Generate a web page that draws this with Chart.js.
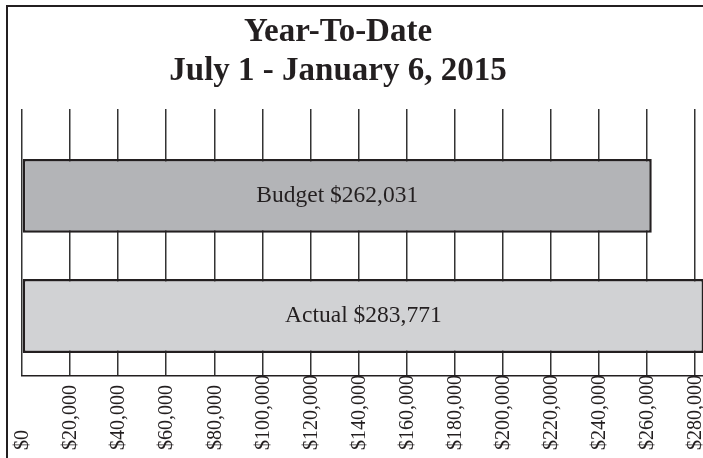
<!DOCTYPE html>
<html>
<head>
<meta charset="utf-8">
<title>Year-To-Date</title>
<script src="https://cdn.jsdelivr.net/npm/chart.js@4.4.0/dist/chart.umd.min.js"></script>
<style>
  html, body { margin: 0; padding: 0; background: #fff; overflow: hidden; }
  body { width: 703px; height: 458px; position: relative; }
  #chart { position: absolute; left: -67px; top: 0; }
  .frame { position: absolute; left: 6px; top: 5px; width: 800px; height: 600px; border: 2px solid #231f20; pointer-events: none; }
</style>
</head>
<body>
<canvas id="chart" width="810" height="458"></canvas>
<div class="frame"></div>
<script>
// values
var categories = ['Budget', 'Actual'];
var amounts = [262031, 283771];
var barColors = ['#b3b4b7', '#d1d2d4'];
var titleLines = ['Year-To-Date', 'July 1 - January 6, 2015'];
var axisMin = 0;
var axisMax = 300000;
var axisStep = 20000;

var ink = '#231f20';
var gridInk = '#333333';

function money(v) {
  return '$' + Number(v).toLocaleString('en-US');
}

// "Budget $262,031" in the middle of each bar
var barLabels = {
  id: 'barLabels',
  afterDatasetsDraw: function (chart) {
    var ctx = chart.ctx;
    var meta = chart.getDatasetMeta(0);
    ctx.save();
    ctx.font = '23.5px "Liberation Serif"';
    ctx.fillStyle = ink;
    ctx.textAlign = 'center';
    ctx.textBaseline = 'middle';
    meta.data.forEach(function (bar, i) {
      var p = bar.getProps(['x', 'y', 'base'], true);
      ctx.fillText(categories[i] + ' ' + money(amounts[i]), (p.x + p.base) / 2, p.y);
    });
    ctx.restore();
  }
};

// vertical tick labels, lined up at the bottom
var tickLabels = {
  id: 'tickLabels',
  afterDraw: function (chart) {
    var scale = chart.scales.x;
    var ctx = chart.ctx;
    var y = scale.bottom - 8;
    ctx.save();
    ctx.font = '20px "Liberation Serif"';
    ctx.fillStyle = ink;
    ctx.textAlign = 'left';
    ctx.textBaseline = 'middle';
    scale.ticks.forEach(function (t, i) {
      var x = scale.getPixelForTick(i);
      ctx.save();
      ctx.translate(x, y);
      ctx.rotate(-Math.PI / 2);
      ctx.fillText(t.label, 0, 1);
      ctx.restore();
    });
    ctx.restore();
  }
};

new Chart(document.getElementById('chart'), {
  type: 'bar',
  data: {
    labels: categories,
    datasets: [{
      data: amounts,
      backgroundColor: barColors,
      borderColor: ink,
      borderWidth: 2.5,
      borderSkipped: false,
      categoryPercentage: 1,
      barPercentage: 0.615
    }]
  },
  options: {
    indexAxis: 'y',
    responsive: false,
    animation: false,
    layout: { padding: 0 },
    plugins: {
      legend: { display: false },
      tooltip: { enabled: false },
      title: {
        display: true,
        text: titleLines,
        color: ink,
        font: { family: '"Liberation Serif"', size: 33, weight: 'bold', lineHeight: 1.18 },
        padding: { top: 13, bottom: 18 }
      }
    },
    scales: {
      x: {
        type: 'linear',
        position: 'bottom',
        min: axisMin,
        max: axisMax,
        ticks: { stepSize: axisStep, display: false, callback: money },
        grid: { color: gridInk, lineWidth: 1.5, drawTicks: false },
        border: { display: true, color: ink, width: 1.5 },
        afterFit: function (s) { s.height = 82; }
      },
      x2: {
        type: 'linear',
        position: 'top',
        min: axisMin,
        max: axisMax,
        ticks: { stepSize: axisStep, display: false },
        grid: { color: gridInk, lineWidth: 1.5, drawOnChartArea: false, drawTicks: true, tickLength: 27, tickColor: gridInk, tickWidth: 1.5 },
        border: { display: false },
        afterFit: function (s) { s.height = 27; }
      },
      y: {
        ticks: { display: false },
        grid: { display: false },
        border: { display: false },
        afterFit: function (s) { s.width = 89; }
      }
    }
  },
  plugins: [barLabels, tickLabels]
});
</script>
</body>
</html>
